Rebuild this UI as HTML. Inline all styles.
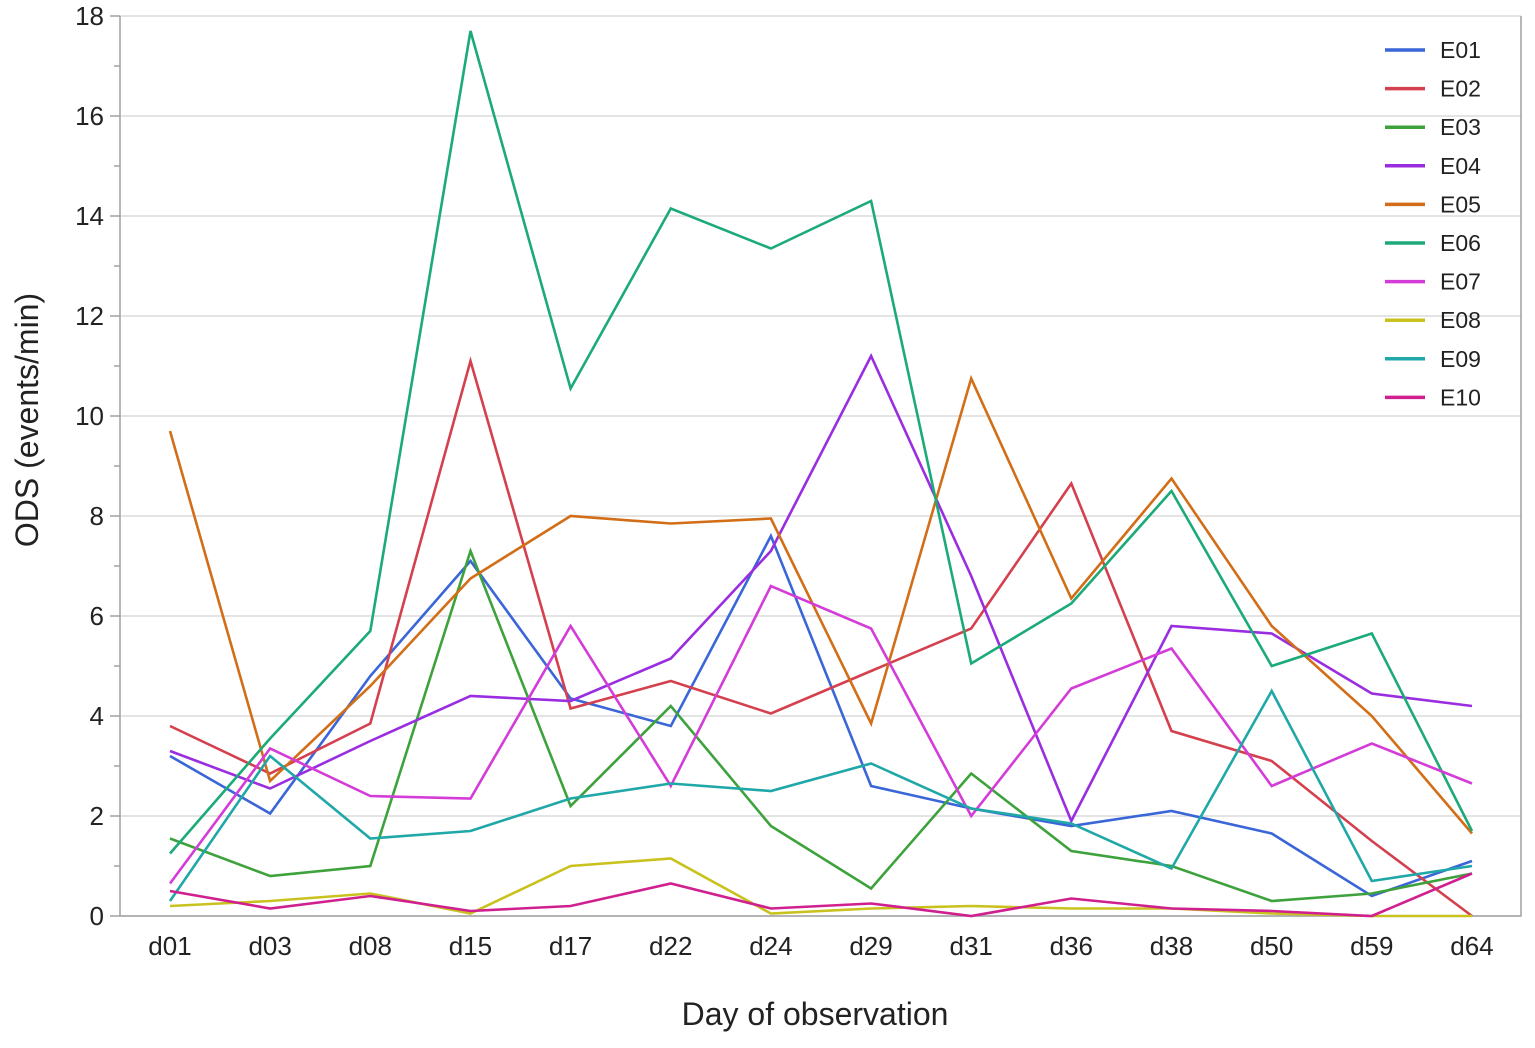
<!DOCTYPE html>
<html><head><meta charset="utf-8"><style>
html,body{margin:0;padding:0;background:#fff}
svg{display:block;font-family:"Liberation Sans","DejaVu Sans",sans-serif}
</style></head><body>
<svg id="chart" width="1535" height="1048"></svg>
<script>
const categories=["d01","d03","d08","d15","d17","d22","d24","d29","d31","d36","d38","d50","d59","d64"];
const seriesNames=["E01","E02","E03","E04","E05","E06","E07","E08","E09","E10"];
const seriesColors=["#3B66D8","#D4404E","#3EA23C","#9A2DE0","#D26E17","#1BAA78","#D43CD8","#C9C21E","#20A7A7","#D0208F"];
const E01=[3.2,2.05,4.8,7.1,4.35,3.8,7.6,2.6,2.15,1.8,2.1,1.65,0.4,1.1];
const E02=[3.8,2.85,3.85,11.1,4.15,4.7,4.05,4.9,5.75,8.65,3.7,3.1,1.5,0];
const E03=[1.55,0.8,1.0,7.3,2.2,4.2,1.8,0.55,2.85,1.3,1.0,0.3,0.45,0.85];
const E04=[3.3,2.55,3.5,4.4,4.3,5.15,7.3,11.2,6.8,1.9,5.8,5.65,4.45,4.2];
const E05=[9.7,2.7,4.6,6.75,8.0,7.85,7.95,3.85,10.75,6.35,8.75,5.8,4.0,1.65];
const E06=[1.25,3.55,5.7,17.7,10.55,14.15,13.35,14.3,5.05,6.25,8.5,5.0,5.65,1.7];
const E07=[0.65,3.35,2.4,2.35,5.8,2.6,6.6,5.75,2.0,4.55,5.35,2.6,3.45,2.65];
const E08=[0.2,0.3,0.45,0.05,1.0,1.15,0.05,0.15,0.2,0.15,0.15,0.05,0.0,0.0];
const E09=[0.3,3.2,1.55,1.7,2.35,2.65,2.5,3.05,2.15,1.85,0.95,4.5,0.7,1.0];
const E10=[0.5,0.15,0.4,0.1,0.2,0.65,0.15,0.25,0.0,0.35,0.15,0.1,0.0,0.85];
const seriesValues=[E01,E02,E03,E04,E05,E06,E07,E08,E09,E10];
const yTicks=[0,2,4,6,8,10,12,14,16,18];

const NS="http://www.w3.org/2000/svg";
const svg=document.getElementById('chart');
const L=120,R=1521,T=16,B=916,yMax=18;
const x0=170,dx=100.15;
function xs(i){return x0+i*dx;}
function ys(v){return B-(v/yMax)*(B-T);}
function mk(tag,attrs){const e=document.createElementNS(NS,tag);for(const k in attrs)e.setAttribute(k,attrs[k]);svg.appendChild(e);return e;}

// gridlines & y ticks
yTicks.forEach(t=>{
  const g=mk('line',{x1:L,x2:R,y1:ys(t),y2:ys(t),stroke:'#dcdcdc','stroke-width':1.5});
  
  
  const tk=mk('line',{x1:L-10,x2:L,y1:ys(t),y2:ys(t),stroke:'#a0a0a0','stroke-width':1.5});
  
  
  const lb=mk('text',{x:L-16,y:ys(t)+9,'text-anchor':'end','font-size':26,fill:'#222'});
  lb.textContent=t;
  
  
});
for(let t=1;t<yMax;t+=2){
  const m=mk('line',{x1:L-6,x2:L,y1:ys(t),y2:ys(t),stroke:'#a0a0a0','stroke-width':1.5});
  
  
}
// axes
const ax=mk('path',{d:`M${L},${T} L${L},${B} L${R},${B} L${R},${T}`,fill:'none',stroke:'#a0a0a0','stroke-width':1.5});



// x labels
categories.forEach((c,i)=>{
  const lb=mk('text',{x:xs(i),y:955,'text-anchor':'middle','font-size':26,fill:'#222'});
  lb.textContent=c;
  
  
});

// series
seriesValues.forEach((vals,s)=>{
  const pts=vals.map((v,i)=>xs(i).toFixed(1)+','+ys(v).toFixed(1)).join(' ');
  const pl=mk('polyline',{points:pts,fill:'none',stroke:seriesColors[s],'stroke-width':2.6,'stroke-linejoin':'miter'});
  
  
});

// legend
seriesNames.forEach((n,s)=>{
  const yy=50+s*38.6;
  const ln=mk('line',{x1:1385,x2:1425,y1:yy,y2:yy,stroke:seriesColors[s],'stroke-width':3.5});
  
  
  const tx=mk('text',{x:1440,y:yy+8,'font-size':23,fill:'#222'});
  tx.textContent=n;
  
  
});

// axis titles
const xt=mk('text',{x:815,y:1025,'text-anchor':'middle','font-size':32,fill:'#222'});
xt.textContent='Day of observation';


const yt=mk('text',{x:0,y:0,'text-anchor':'middle','font-size':32,fill:'#222',transform:'translate(38,420) rotate(-90)'});
yt.textContent='ODS (events/min)';


</script>
</body></html>
